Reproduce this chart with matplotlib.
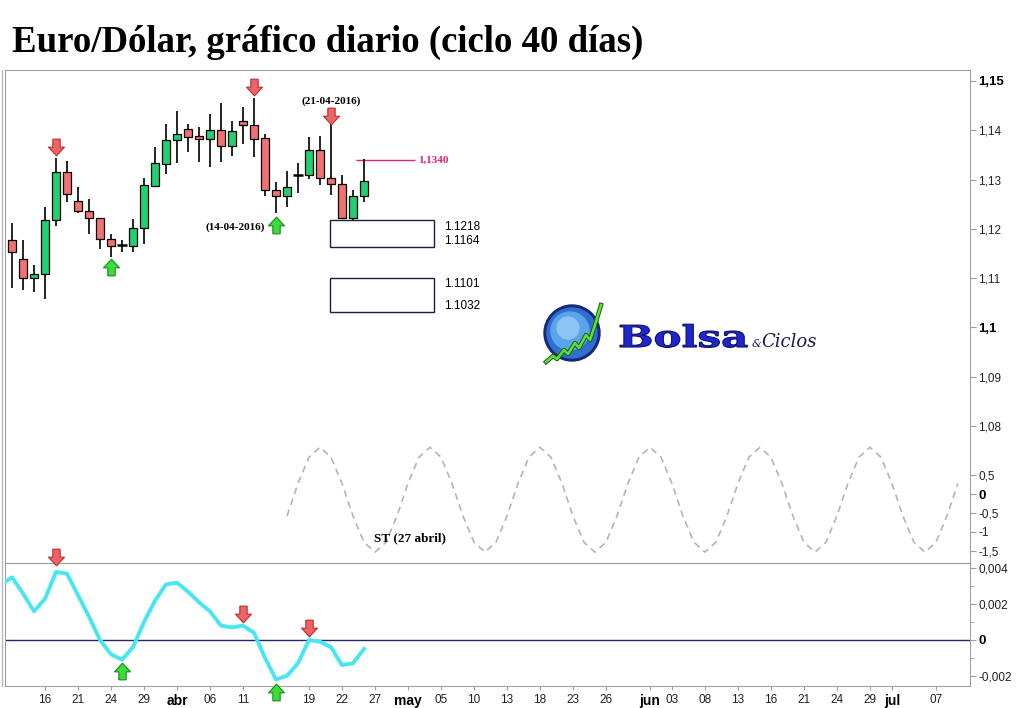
import matplotlib
matplotlib.use("Agg")
import matplotlib.pyplot as plt
import pandas as pd
from matplotlib.path import Path
from matplotlib.patches import Rectangle, Circle, PathPatch
from matplotlib.textpath import TextPath
from matplotlib.font_manager import FontProperties
from matplotlib.transforms import Affine2D
from matplotlib.lines import Line2D

# daily EUR/USD candles, one per business day starting 11-03-2016
opens  = [1.1178, 1.1139, 1.1100, 1.1109, 1.1218, 1.1315, 1.1257, 1.1236, 1.1222, 1.1180,
          1.1167, 1.1165, 1.1202, 1.1287, 1.1332, 1.1380, 1.1403, 1.1388, 1.1382, 1.1401,
          1.1368, 1.1419, 1.1411, 1.1384, 1.1279, 1.1267, 1.1309, 1.1309, 1.1360, 1.1303,
          1.1291, 1.1222, 1.1267]
highs  = [1.1212, 1.1178, 1.1127, 1.1244, 1.1344, 1.1338, 1.1285, 1.1261, 1.1222, 1.1190,
          1.1178, 1.1220, 1.1303, 1.1366, 1.1413, 1.1439, 1.1413, 1.1407, 1.1433, 1.1455,
          1.1419, 1.1447, 1.1466, 1.1392, 1.1295, 1.1317, 1.1334, 1.1386, 1.1388, 1.1419,
          1.1309, 1.1279, 1.1342]
lows   = [1.1080, 1.1076, 1.1072, 1.1058, 1.1206, 1.1255, 1.1232, 1.1190, 1.1159, 1.1143,
          1.1153, 1.1153, 1.1169, 1.1285, 1.1311, 1.1334, 1.1356, 1.1336, 1.1326, 1.1336,
          1.1348, 1.1372, 1.1346, 1.1267, 1.1232, 1.1244, 1.1273, 1.1301, 1.1289, 1.1269,
          1.1220, 1.1214, 1.1255]
closes = [1.1153, 1.1100, 1.1109, 1.1218, 1.1315, 1.1271, 1.1236, 1.1222, 1.1180, 1.1165,
          1.1167, 1.1202, 1.1289, 1.1334, 1.1380, 1.1392, 1.1386, 1.1382, 1.1401, 1.1368,
          1.1399, 1.1411, 1.1382, 1.1279, 1.1267, 1.1285, 1.1309, 1.1360, 1.1303, 1.1291,
          1.1222, 1.1267, 1.1297]

# projected cycle (dashed), first value on bar 25
sine_start = 25
sine_vals = [-0.58, 0.28, 0.97, 1.23, 0.97, 0.28, -0.58, -1.27, -1.53, -1.27,
             -0.58, 0.28, 0.97, 1.23, 0.97, 0.28, -0.58, -1.27, -1.53, -1.27,
             -0.58, 0.28, 0.97, 1.23, 0.97, 0.28, -0.58, -1.27, -1.53, -1.27,
             -0.58, 0.28, 0.97, 1.23, 0.97, 0.28, -0.58, -1.27, -1.53, -1.27,
             -0.58, 0.28, 0.97, 1.23, 0.97, 0.28, -0.58, -1.27, -1.53, -1.27,
             -0.58, 0.28, 0.97, 1.23, 0.97, 0.28, -0.58, -1.27, -1.53, -1.27,
             -0.58, 0.28]

# oscillator in lower panel, first value on bar -1
osc_start = -1
osc_vals = [0.0031, 0.0035, 0.0026, 0.0016, 0.0023, 0.0038, 0.0037, 0.0025, 0.0013, 0.0000,
            -0.0008, -0.0011, -0.0004, 0.0010, 0.0022, 0.0031, 0.0032, 0.0027, 0.0021, 0.0016,
            0.0008, 0.0007, 0.0008, 0.0004, -0.0010, -0.0022, -0.0020, -0.0013, 0.0000, -0.0001,
            -0.0004, -0.0014, -0.0013, -0.0005]

# turning points
price_tops = [(4, 1.1366), (22, 1.1488), (29, 1.1429)]
price_bottoms = [(9, 1.1123), (24, 1.1208)]
osc_tops = [(4, 0.00464), (21, 0.00145), (27, 0.00067)]
osc_bottoms = [(10, -0.00173), (24, -0.0029)]

target_level = 1.1340
zone_1 = (1.1164, 1.1218)
zone_2 = (1.1032, 1.1101)

price_ticks = [1.08, 1.09, 1.10, 1.11, 1.12, 1.13, 1.14, 1.15]
price_labels = ["1,08", "1,09", "1,1", "1,11", "1,12", "1,13", "1,14", "1,15"]
sine_ticks = [-1.5, -1, -0.5, 0, 0.5]
sine_labels = ["-1,5", "-1", "-0,5", "0", "0,5"]
osc_ticks = [-0.002, 0, 0.002, 0.004]
osc_labels = ["-0,002", "0", "0,002", "0,004"]

tick_dates = ["2016-03-16", "2016-03-21", "2016-03-24", "2016-03-29", "2016-04-01", "2016-04-06",
              "2016-04-11", "2016-04-19", "2016-04-22", "2016-04-27", "2016-05-02", "2016-05-05",
              "2016-05-10", "2016-05-13", "2016-05-18", "2016-05-23", "2016-05-26", "2016-06-01",
              "2016-06-03", "2016-06-08", "2016-06-13", "2016-06-16", "2016-06-21", "2016-06-24",
              "2016-06-29", "2016-07-01", "2016-07-07"]
tick_labels = ["16", "21", "24", "29", "abr", "06", "11", "19", "22", "27", "may", "05", "10",
               "13", "18", "23", "26", "jun", "03", "08", "13", "16", "21", "24", "29", "jul", "07"]
month_labels = ["abr", "may", "jun", "jul"]

plt.rcParams["font.family"] = ["Liberation Sans", "DejaVu Sans"]

RED = "#f07272"
GREEN = "#22d073"
GRAY = "#a0a0a0"

down_arrow = Path([(-0.22, 0.5), (0.22, 0.5), (0.22, 0.02), (0.48, 0.02), (0, -0.5),
                   (-0.48, 0.02), (-0.22, 0.02), (-0.22, 0.5)])
up_arrow = Path([(x, -y) for x, y in down_arrow.vertices])


def arrows(ax, pts, up):
    xs = [p[0] for p in pts]
    ys = [p[1] for p in pts]
    if up:
        ax.plot(xs, ys, ls="none", marker=up_arrow, ms=12, mfc="#3ddc3d", mec="#1a8a1a",
                mew=0.8, clip_on=False, zorder=6)
    else:
        ax.plot(xs, ys, ls="none", marker=down_arrow, ms=12, mfc="#ec6464", mec="#b83030",
                mew=0.8, clip_on=False, zorder=6)


def style_right_axis(ax, ticks, labels, bold):
    ax.yaxis.tick_right()
    ax.set_yticks(ticks)
    ax.set_yticklabels(labels)
    ax.tick_params(axis="y", direction="out", length=4, width=0.8, color=GRAY,
                   labelsize=8.5, pad=2, labelcolor="#202020")
    for t in ax.get_yticklabels():
        if t.get_text() in bold:
            t.set_fontweight("bold")
            t.set_fontsize(9.5)
            t.set_color("black")


fig = plt.figure(figsize=(10.24, 7.08), dpi=100, facecolor="white")

W, H = 1024.0, 708.0
x_left, x_right = 5, 970
y_top, y_mid, y_bot = 70, 563, 686
rect_top = [x_left / W, 1 - y_mid / H, (x_right - x_left) / W, (y_mid - y_top) / H]
rect_low = [x_left / W, 1 - y_bot / H, (x_right - x_left) / W, (y_bot - y_mid) / H]

xlim = (-0.64, 87.1)

# outer left border
fig.add_artist(Line2D([2 / W, 2 / W], [1 - y_bot / H, 1 - y_top / H], color="#b8b8b8", lw=1))

# price panel
ax = fig.add_axes(rect_top)
ax.set_xlim(*xlim)
ax.set_ylim(1.05223, 1.15223)
for s in ax.spines.values():
    s.set_color(GRAY)
ax.set_xticks([])
style_right_axis(ax, price_ticks, price_labels, ["1,15", "1,1"])

# projected cycle on its own scale
ax_s = fig.add_axes(rect_top, frameon=False)
ax_s.patch.set_alpha(0)
ax_s.set_xlim(*xlim)
ax_s.set_ylim(-1.816, 11.16)
ax_s.set_xticks([])
style_right_axis(ax_s, sine_ticks, sine_labels, ["0"])
sine_x = [sine_start + i for i in range(len(sine_vals))]
ax_s.plot(sine_x, sine_vals, color="#b4b4b4", lw=1.2, dashes=(4, 3))
ax_s.text(36.2, -1.16, "ST (27 abril)", family="Liberation Serif", weight="bold",
          fontsize=9.5, ha="center", va="center")

# candles
xs = list(range(len(opens)))
ax.vlines(xs, lows, highs, color="black", lw=1.2, zorder=3)
for x, o, h, l, c in zip(xs, opens, highs, lows, closes):
    if abs(c - o) < 1e-6:
        ax.hlines(o, x - 0.42, x + 0.42, color="black", lw=1.8, zorder=4)
    else:
        ax.bar(x, abs(c - o), bottom=min(o, c), width=0.72,
               color=GREEN if c > o else RED, edgecolor="black", linewidth=0.9, zorder=4)

arrows(ax, price_tops, up=False)
arrows(ax, price_bottoms, up=True)

ax.text(29, 1.1459, "(21-04-2016)", family="Liberation Serif", weight="bold",
        fontsize=8, ha="center", va="center")
ax.text(23.0, 1.1204, "(14-04-2016)", family="Liberation Serif", weight="bold",
        fontsize=8, ha="right", va="center")

ax.hlines(target_level, 31.3, 36.6, color="#e0207a", lw=1)
ax.text(36.9, target_level, "1,1340", color="#e0207a", family="Liberation Serif",
        weight="bold", fontsize=8, ha="left", va="center")

for lo, hi in (zone_1, zone_2):
    ax.add_patch(Rectangle((28.9, lo), 9.5, hi - lo, facecolor="white",
                           edgecolor="#1c1c50", lw=1, zorder=5))
    ax.text(39.3, hi - 0.0001, "%.4f" % hi, fontsize=8.5, ha="left", va="top")
    ax.text(39.3, lo, "%.4f" % lo, fontsize=8.5, ha="left", va="bottom")

# oscillator panel
ax2 = fig.add_axes(rect_low)
ax2.set_xlim(*xlim)
ax2.set_ylim(-0.00257, 0.0043)
for s in ax2.spines.values():
    s.set_color(GRAY)
style_right_axis(ax2, osc_ticks, osc_labels, ["0"])
ax2.set_yticks([-0.001, 0.001, 0.003], minor=True)
ax2.tick_params(axis="y", which="minor", direction="out", length=3, color=GRAY)
ax2.axhline(0, color="#26266e", lw=1)
osc_x = [osc_start + i for i in range(len(osc_vals))]
ax2.plot(osc_x, osc_vals, color="#48e6f2", lw=2.8, solid_joinstyle="round", zorder=3)
arrows(ax2, osc_tops, up=False)
arrows(ax2, osc_bottoms, up=True)

bdays = pd.bdate_range("2016-03-11", "2016-07-29")
tick_pos = bdays.get_indexer(pd.to_datetime(tick_dates))
ax2.set_xticks(tick_pos)
ax2.set_xticklabels(tick_labels)
ax2.tick_params(axis="x", direction="out", length=3, color=GRAY, labelsize=8.5,
                pad=3, labelcolor="#202020")
for t in ax2.get_xticklabels():
    if t.get_text() in month_labels:
        t.set_fontweight("bold")
        t.set_fontsize(10)
        t.set_color("black")

# title
fig.text(12 / W, 1 - 42 / H, "Euro/Dólar, gráfico diario (ciclo 40 días)",
         family="Liberation Serif", weight="bold", fontsize=26.5, ha="left", va="center")

# Bolsa & Ciclos logo
lg = fig.add_axes([540 / W, 1 - 370 / H, 290 / W, 70 / H])
lg.set_xlim(0, 290)
lg.set_ylim(0, 70)
lg.axis("off")
lg.add_patch(Circle((32, 37), 28, color="#142a78"))
lg.add_patch(Circle((32, 37), 25, color="#2f6fd0"))
lg.add_patch(Circle((30, 39), 19, color="#5aa4ec"))
lg.add_patch(Circle((28, 42), 11, color="#8cc4f4"))
zig_x = [6, 13, 17, 24, 28, 35, 39, 46, 50, 55, 61]
zig_y = [8, 14, 11, 20, 16, 27, 22, 35, 30, 45, 65]
lg.plot(zig_x, zig_y, color="#1c5a10", lw=3.2)
lg.plot(zig_x, zig_y, color="#5ee03a", lw=1.8)
tp = TextPath((0, 0), "Bolsa", size=1, prop=FontProperties(family="DejaVu Serif", weight="bold"))
lg.add_patch(PathPatch(tp, transform=Affine2D().scale(42, 30).translate(78, 23) + lg.transData,
                       facecolor="#1f26d0", edgecolor="#0c1060", lw=0.8))
lg.text(212, 23, "&", family="DejaVu Serif", style="italic", fontsize=8, color="#1a1a50",
        va="baseline")
lg.text(221, 23, "Ciclos", family="DejaVu Serif", style="italic", fontsize=13,
        color="#1a1a50", va="baseline")

fig.savefig("out.png", dpi=100, facecolor="white")
